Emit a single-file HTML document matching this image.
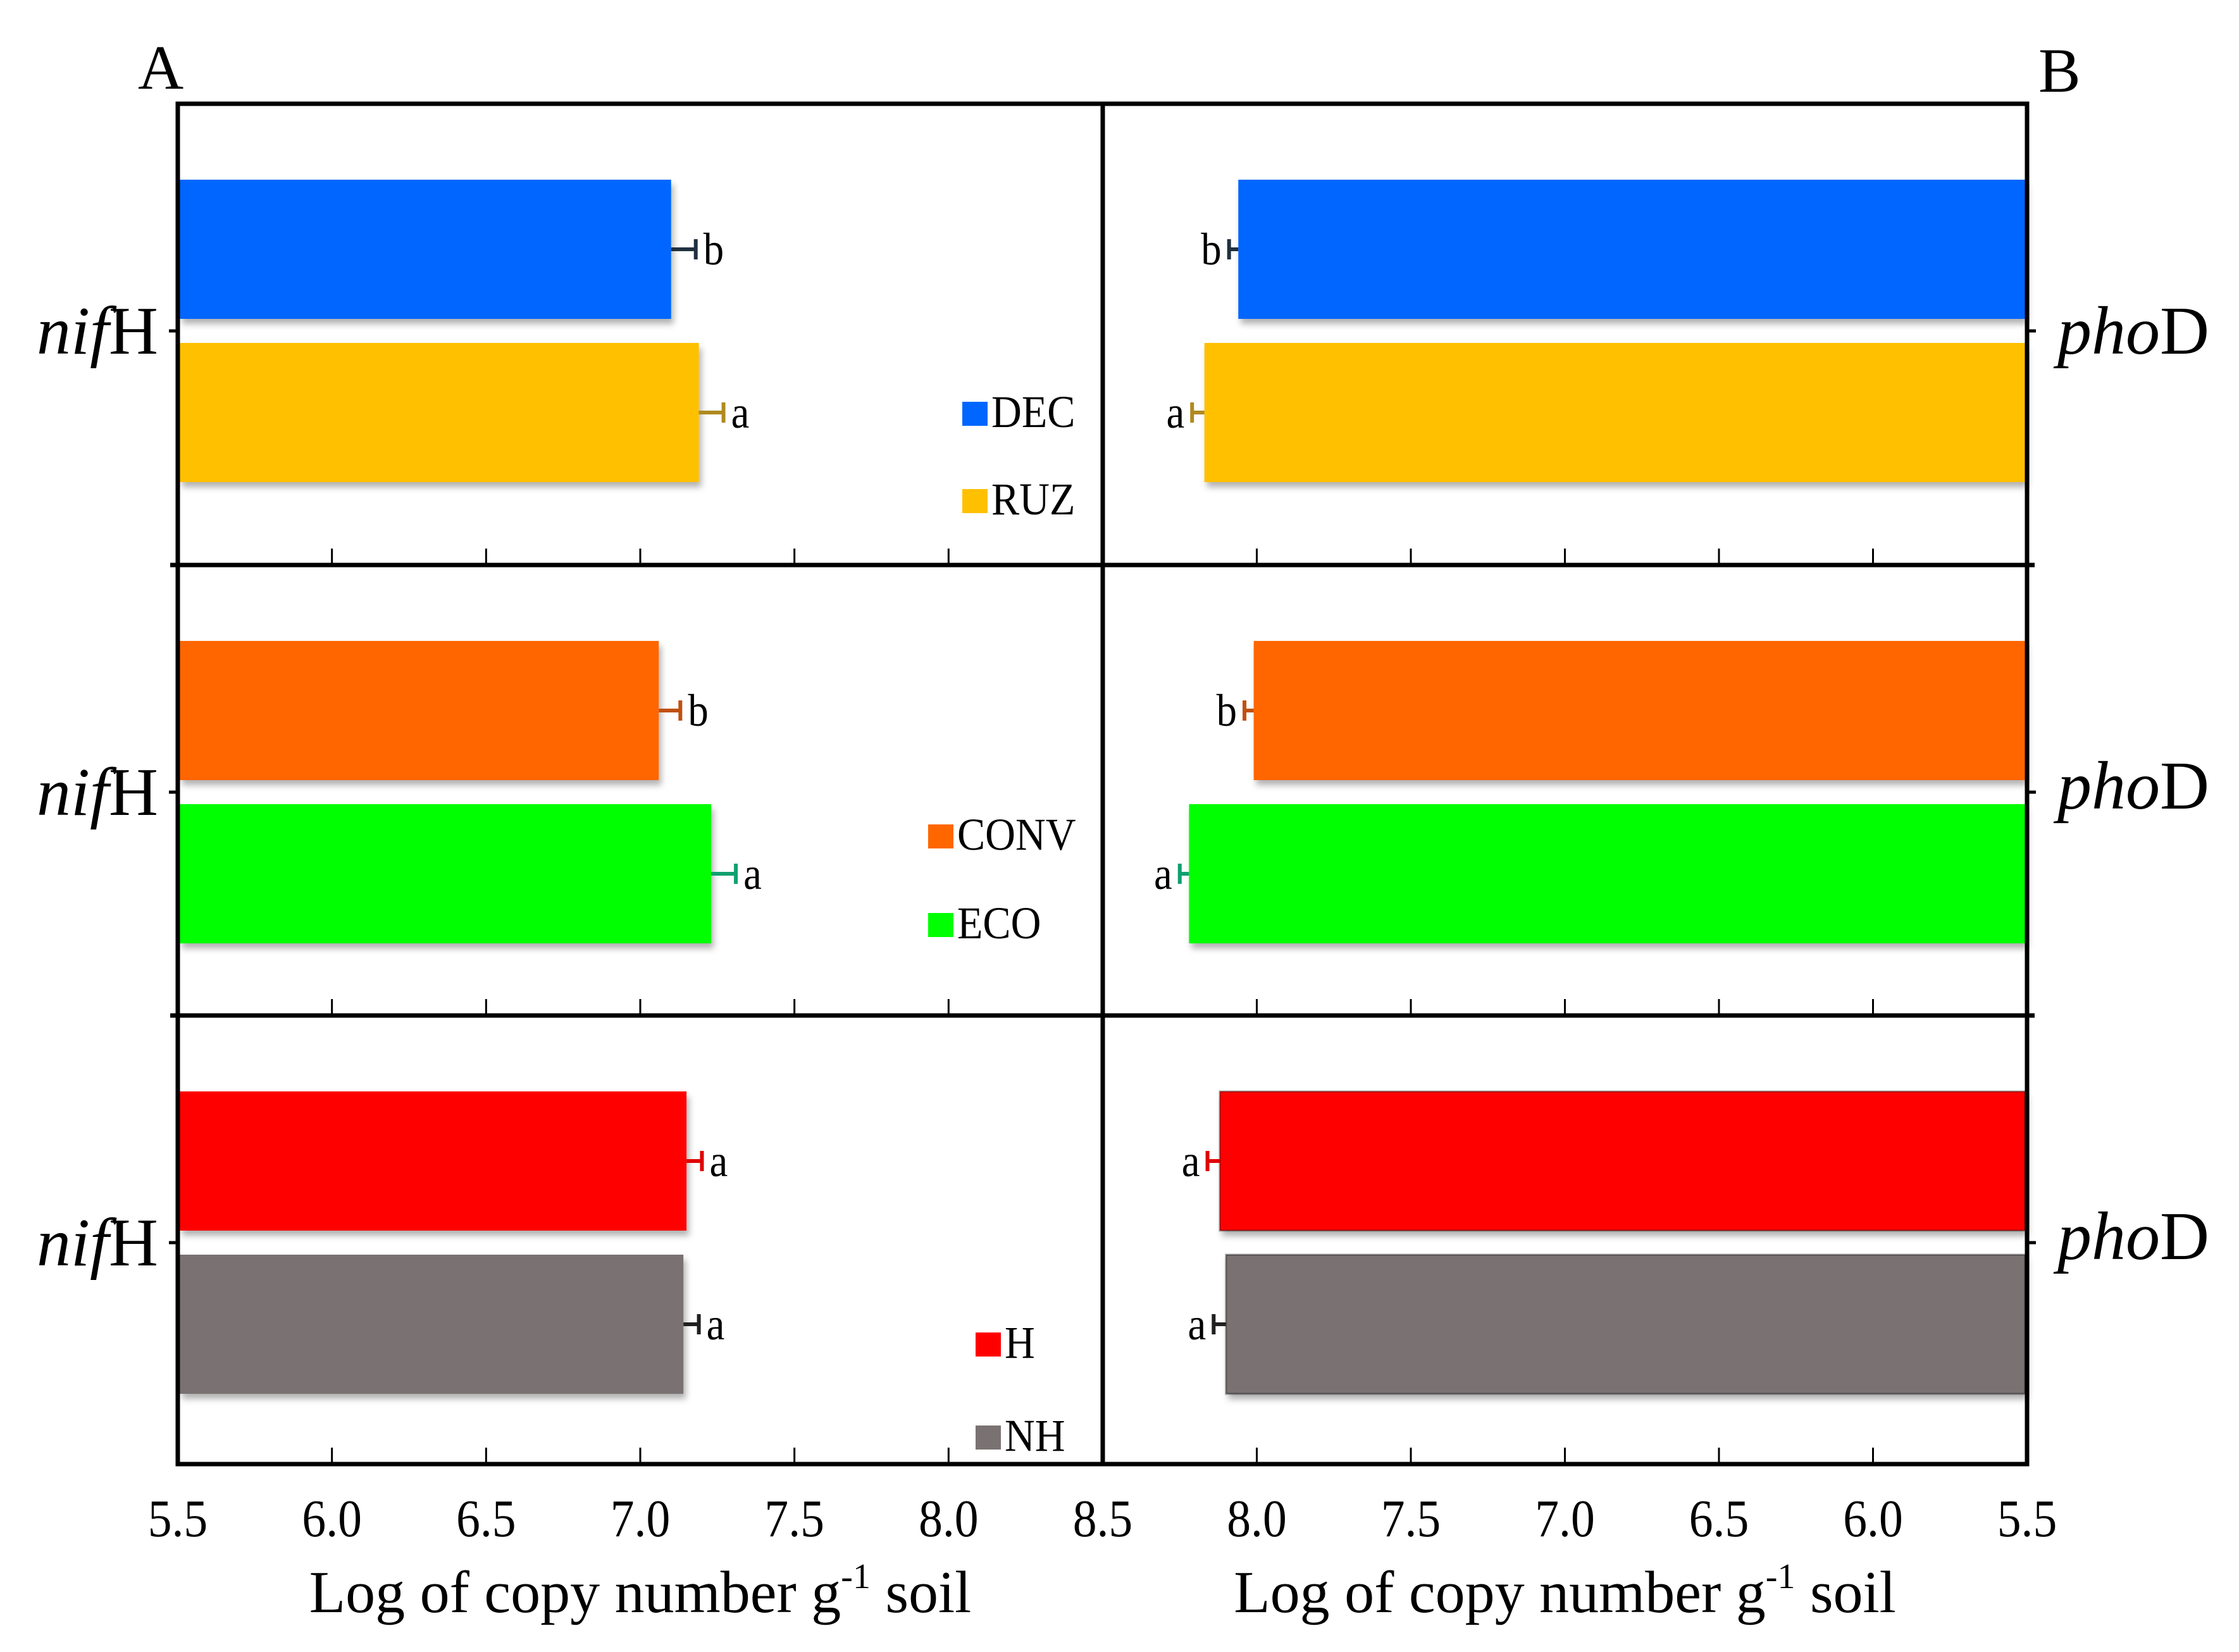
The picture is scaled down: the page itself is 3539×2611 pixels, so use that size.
<!DOCTYPE html>
<html><head><meta charset="utf-8"><style>
html,body{margin:0;padding:0;background:#fff;}
svg{display:block;font-family:"Liberation Serif",serif;}
</style></head><body>
<svg id="chart" width="3539" height="2611" viewBox="0 0 3539 2611" xmlns="http://www.w3.org/2000/svg">
<defs><filter id="sh" x="-5%" y="-5%" width="110%" height="120%"><feDropShadow dx="4" dy="8" stdDeviation="5" flood-color="#000" flood-opacity="0.3"/></filter></defs>
<g id="g"></g>
</svg>
<script>
const groups = [["DEC","RUZ"],["CONV","ECO"],["H","NH"]];
const colors = [["#0066ff","#ffc000"],["#ff6600","#00ff00"],["#ff0000","#7a7272"]];
const errColors = [["#203040","#b08a20"],["#c05010","#10a070"],["#e00000","#202020"]];
const nifHValues = [[7.10,7.19],[7.06,7.23],[7.15,7.14]];
const nifHErr = [[0.08,0.08],[0.07,0.08],[0.05,0.05]];
const nifHLetters = [["b","a"],["b","a"],["a","a"]];
const phoDValues = [[8.06,8.17],[8.01,8.22],[8.12,8.10]];
const phoDErr = [[0.03,0.04],[0.03,0.03],[0.04,0.04]];
const phoDLetters = [["b","a"],["b","a"],["a","a"]];
const leftTicks = ["5.5","6.0","6.5","7.0","7.5","8.0","8.5"];
const rightTicks = ["8.0","7.5","7.0","6.5","6.0","5.5"];

const NS="http://www.w3.org/2000/svg";
const g=document.getElementById('g');
function el(t,a,txt){const e=document.createElementNS(NS,t);for(const k in a)e.setAttribute(k,a[k]);if(txt!==undefined)e.textContent=txt;g.appendChild(e);return e;}
const L0=281,L1=1743,R1=3204;
const xl=v=>L0+(v-5.5)*(L1-L0)/3;
const xr=v=>L1+(8.5-v)*(R1-L1)/3;
const rowTops=[164,893,1605,2314];
const BH=220;
const barOff=[120,378];

for(let r=0;r<3;r++){
  const top=rowTops[r];
  for(let i=0;i<2;i++){
    const y=top+barOff[i], cy=y+BH/2;
    let v=nifHValues[r][i], e=nifHErr[r][i];
    let b=el('rect',{x:L0+3,y:y,width:xl(v)-L0-3,height:BH,fill:colors[r][i],filter:'url(#sh)'});
    
    
    let eb=el('path',{d:`M${xl(v)} ${cy}H${xl(v+e)}M${xl(v+e)} ${cy-16}V${cy+16}`,stroke:errColors[r][i],'stroke-width':6,fill:'none'});
    
    
    let lt=el('text',{x:(xl(v+e)+12)/0.9,y:cy+24,'font-size':72,transform:`scale(0.9,1)`},nifHLetters[r][i]);
    
    
    v=phoDValues[r][i]; e=phoDErr[r][i];
    b=el('rect',{x:xr(v),y:y,width:R1-3-xr(v),height:BH,fill:colors[r][i],stroke:r==2?'rgba(0,0,0,0.35)':'none','stroke-width':3,filter:'url(#sh)'});
    
    
    eb=el('path',{d:`M${xr(v)} ${cy}H${xr(v+e)}M${xr(v+e)} ${cy-16}V${cy+16}`,stroke:errColors[r][i],'stroke-width':6,fill:'none'});
    
    
    lt=el('text',{x:(xr(v+e)-12)/0.9,y:cy+24,'font-size':72,'text-anchor':'end',transform:'scale(0.9,1)'},phoDLetters[r][i]);
    
    
  }
  const by=rowTops[r+1];
  leftTicks.forEach((t,k)=>{const x=xl(+t);const tk=el('line',{x1:x,y1:by,x2:x,y2:by-26,stroke:'#000','stroke-width':3});
    });
  rightTicks.forEach(t=>{const x=xr(+t);const tk=el('line',{x1:x,y1:by,x2:x,y2:by-26,stroke:'#000','stroke-width':3});
    });
  const cyT=top+359;
  el('line',{x1:L0-14,y1:cyT,x2:L0,y2:cyT,stroke:'#000','stroke-width':5});
  el('line',{x1:R1,y1:cyT,x2:R1+14,y2:cyT,stroke:'#000','stroke-width':5});
  let t=el('text',{x:250,y:cyT+36,'font-size':108,'text-anchor':'end'});
  t.innerHTML='<tspan font-style="italic">nif</tspan>H';
  
  t=el('text',{x:3252,y:cyT+36-(r==0?0:10),'font-size':108});
  t.innerHTML='<tspan font-style="italic">pho</tspan>D';
  
}
const legPos=[[1521,635,773],[1467,1303,1443],[1542,2106,2253]];
for(let r=0;r<3;r++){
  for(let i=0;i<2;i++){
    const [lx,y0,y1]=legPos[r];const y=i?y1:y0;
    const s=el('rect',{x:lx,y:y,width:40,height:38,fill:colors[r][i]});
    
    const t=el('text',{x:(lx+46)/0.92,y:y+40,'font-size':72,transform:'scale(0.92,1)'},groups[r][i]);
    
  }
}
const fr=el('path',{d:`M${L0} ${rowTops[0]}H${R1}V${rowTops[3]}H${L0}Z M${L1} ${rowTops[0]}V${rowTops[3]} M${L0-12} ${rowTops[1]}H${R1+12} M${L0-12} ${rowTops[2]}H${R1+12}`,stroke:'#000','stroke-width':7,fill:'none'});

leftTicks.forEach(t=>{const e=el('text',{x:xl(+t)/0.9,y:2428,'font-size':84,'text-anchor':'middle',transform:'scale(0.9,1)'},t);
  });
rightTicks.forEach(t=>{const e=el('text',{x:xr(+t)/0.9,y:2428,'font-size':84,'text-anchor':'middle',transform:'scale(0.9,1)'},t);
  });
[[(L0+L1)/2,'x-axis-title-a'],[(L1+R1)/2,'x-axis-title-b']].forEach(([x,n])=>{
  const e=el('text',{x:x,y:2548,'font-size':94,'text-anchor':'middle'});
  e.innerHTML='Log of copy number g<tspan font-size="56" dy="-38">-1</tspan><tspan dy="38"> soil</tspan>';
  });
let pa=el('text',{x:218,y:140,'font-size':100},'A');

let pb=el('text',{x:3222,y:145,'font-size':100},'B');

</script>
</body></html>
